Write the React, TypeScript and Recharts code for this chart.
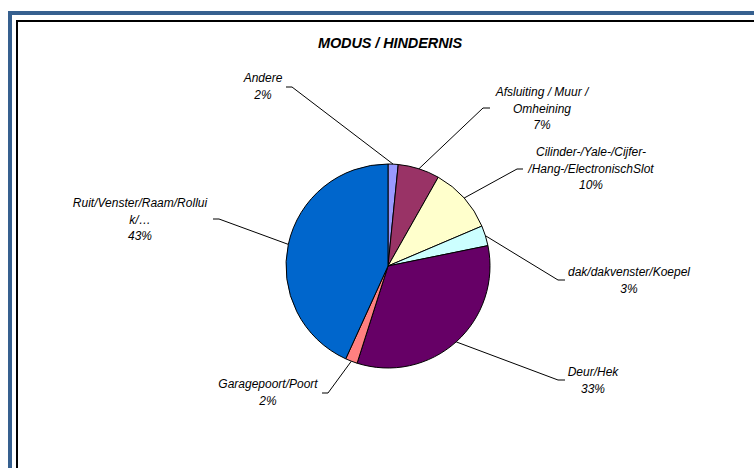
import { PieChart, Pie, Cell } from 'recharts';

const categories = [
  'Andere',
  'Afsluiting / Muur / Omheining',
  'Cilinder-/Yale-/Cijfer-/Hang-/ElectronischSlot',
  'dak/dakvenster/Koepel',
  'Deur/Hek',
  'Garagepoort/Poort',
  'Ruit/Venster/Raam/Rolluik/…',
];
const values = [1.6, 6.6, 10.4, 3.2, 33.1, 1.9, 43.2];
// how Excel wrapped the category names
const labelLines = [
  ['Andere'],
  ['Afsluiting / Muur /', 'Omheining'],
  ['Cilinder-/Yale-/Cijfer-', '/Hang-/ElectronischSlot'],
  ['dak/dakvenster/Koepel'],
  ['Deur/Hek'],
  ['Garagepoort/Poort'],
  ['Ruit/Venster/Raam/Rollui', 'k/…'],
];

const colors = ['#9999FF', '#993366', '#FFFFCC', '#CCFFFF', '#660066', '#FF8080', '#0066CC'];

// label placement: text centre x, first line y, elbow of leader, end of stub
const labelLayout = [
  { tx: 263, ty: 78, ex: 292, ey: 87, hx: 286 },
  { tx: 542, ty: 92, ex: 483, ey: 108, hx: 490 },
  { tx: 591, ty: 152, ex: 517, ey: 169, hx: 523 },
  { tx: 629, ty: 272, ex: 558, ey: 280, hx: 565 },
  { tx: 593, ty: 372, ex: 558, ey: 380, hx: 565 },
  { tx: 268, ty: 384, ex: 328, ey: 393, hx: 322 },
  { tx: 140, ty: 203, ex: 219, ey: 219, hx: 213 },
];

const total = values.reduce((a, b) => a + b, 0);
const data = categories.map((name, i) => ({ name, value: values[i] }));

const FONT = '"Liberation Sans", Arial, sans-serif';
const RAD = Math.PI / 180;

const renderLabel = (props: any) => {
  const { cx, cy, midAngle, outerRadius, index } = props;
  const px = cx + outerRadius * Math.cos(-midAngle * RAD);
  const py = cy + outerRadius * Math.sin(-midAngle * RAD);
  const l = labelLayout[index];
  const lines = [...labelLines[index], `${Math.round((values[index] / total) * 100)}%`];
  return (
    <g key={`lbl-${index}`}>
      <polyline
        points={`${px},${py} ${l.ex},${l.ey} ${l.hx},${l.ey}`}
        fill="none"
        stroke="#000"
        strokeWidth={1}
      />
      {lines.map((t, i) => (
        <text
          key={i}
          x={l.tx}
          y={l.ty + i * 16.7}
          textAnchor="middle"
          dominantBaseline="central"
          fontFamily={FONT}
          fontStyle="italic"
          fontSize={12}
          fill="#000"
        >
          {t}
        </text>
      ))}
    </g>
  );
};

export default function App() {
  return (
    <div style={{ position: 'absolute', left: 0, top: 0, width: 754, height: 468, background: '#fff', overflow: 'hidden' }}>
      <div style={{ position: 'absolute', left: 8, top: 11, width: 760, height: 470, borderLeft: '4px solid #36608F', borderTop: '4px solid #36608F' }} />
      <div style={{ position: 'absolute', left: 16, top: 20, width: 760, height: 470, borderLeft: '2px solid #000', borderTop: '2px solid #000' }} />
      <div
        style={{
          position: 'absolute',
          left: 0,
          width: 780,
          top: 34,
          textAlign: 'center',
          fontFamily: FONT,
          fontStyle: 'italic',
          fontWeight: 'bold',
          fontSize: 14.5,
          letterSpacing: -0.1,
          lineHeight: '18px',
        }}
      >
        MODUS / HINDERNIS
      </div>
      <div style={{ position: 'absolute', left: 0, top: 0 }}>
        <PieChart width={754} height={468} margin={{ top: 0, right: 0, bottom: 0, left: 0 }}>
          <Pie
            data={data}
            dataKey="value"
            nameKey="name"
            cx={388}
            cy={266}
            outerRadius={102}
            startAngle={90}
            endAngle={-270}
            stroke="#000"
            strokeWidth={1}
            label={renderLabel}
            labelLine={false}
            isAnimationActive={false}
          >
            {data.map((d, i) => (
              <Cell key={d.name} fill={colors[i]} />
            ))}
          </Pie>
        </PieChart>
      </div>
    </div>
  );
}
